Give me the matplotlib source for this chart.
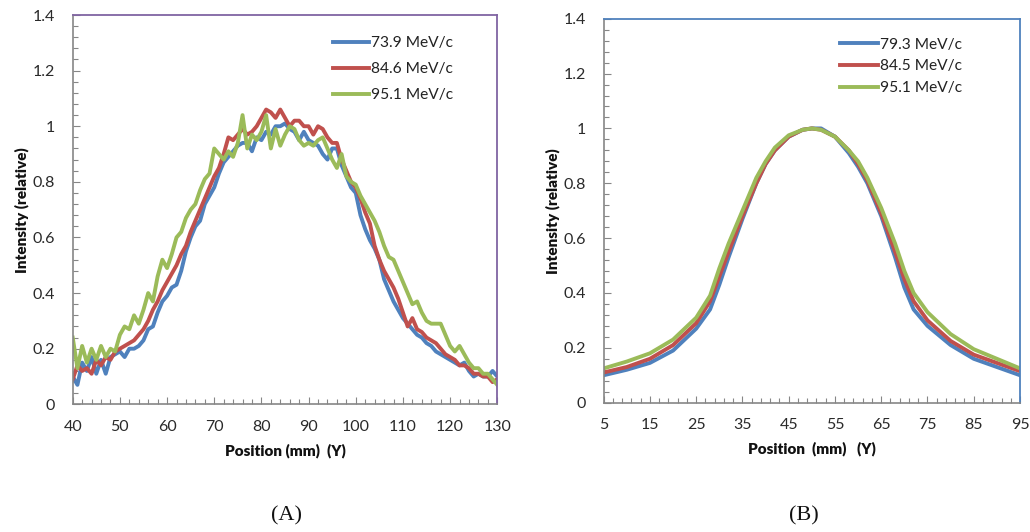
import matplotlib
matplotlib.use("Agg")
import matplotlib.pyplot as plt
from matplotlib.ticker import MultipleLocator, FixedLocator, FuncFormatter
import numpy as np

# ---------------- Data: panel A ----------------
pos_a = list(range(40, 131))
series_a_labels = ["73.9 MeV/c", "84.6 MeV/c", "95.1 MeV/c"]
a_739 = [0.10, 0.07, 0.15, 0.12, 0.17, 0.11, 0.16, 0.11, 0.17, 0.18,
         0.19, 0.17, 0.20, 0.20, 0.21, 0.23, 0.27, 0.28, 0.33, 0.37,
         0.39, 0.42, 0.43, 0.48, 0.55, 0.60, 0.64, 0.66, 0.72, 0.75,
         0.78, 0.83, 0.87, 0.89, 0.91, 0.93, 0.94, 0.94, 0.91, 0.96,
         0.95, 0.98, 0.97, 1.00, 1.00, 1.01, 0.99, 0.98, 0.95, 0.98,
         0.95, 0.94, 0.93, 0.90, 0.88, 0.92, 0.92, 0.86, 0.82, 0.78,
         0.76, 0.68, 0.63, 0.59, 0.56, 0.52, 0.45, 0.41, 0.37, 0.34,
         0.31, 0.29, 0.27, 0.25, 0.24, 0.22, 0.21, 0.19, 0.18, 0.17,
         0.16, 0.15, 0.14, 0.15, 0.12, 0.10, 0.11, 0.10, 0.10, 0.12,
         0.10]
a_846 = [0.09, 0.14, 0.12, 0.13, 0.11, 0.16, 0.14, 0.17, 0.16, 0.19,
         0.20, 0.21, 0.22, 0.23, 0.25, 0.27, 0.30, 0.34, 0.37, 0.41,
         0.44, 0.47, 0.50, 0.54, 0.57, 0.62, 0.66, 0.70, 0.74, 0.78,
         0.82, 0.85, 0.90, 0.96, 0.95, 0.97, 0.99, 0.97, 0.98, 1.00,
         1.03, 1.06, 1.05, 1.03, 1.06, 1.03, 1.00, 1.02, 1.02, 1.00,
         1.00, 0.97, 1.00, 0.99, 0.96, 0.94, 0.94, 0.88, 0.84, 0.80,
         0.78, 0.74, 0.69, 0.65, 0.57, 0.52, 0.48, 0.45, 0.42, 0.38,
         0.33, 0.28, 0.31, 0.27, 0.26, 0.24, 0.23, 0.22, 0.20, 0.18,
         0.17, 0.16, 0.14, 0.14, 0.13, 0.11, 0.11, 0.10, 0.10, 0.08,
         0.09]
a_951 = [0.24, 0.13, 0.21, 0.15, 0.20, 0.16, 0.21, 0.17, 0.20, 0.19,
         0.25, 0.28, 0.27, 0.32, 0.29, 0.34, 0.40, 0.37, 0.46, 0.52,
         0.49, 0.54, 0.60, 0.62, 0.67, 0.70, 0.72, 0.77, 0.81, 0.83,
         0.92, 0.90, 0.88, 0.91, 0.89, 0.94, 1.04, 0.92, 0.97, 0.95,
         0.98, 1.04, 0.92, 0.99, 0.93, 0.97, 1.00, 0.99, 0.95, 0.93,
         0.94, 0.93, 0.95, 0.96, 0.92, 0.88, 0.85, 0.90, 0.82, 0.80,
         0.79, 0.75, 0.72, 0.69, 0.66, 0.62, 0.57, 0.53, 0.52, 0.48,
         0.44, 0.40, 0.36, 0.37, 0.33, 0.30, 0.29, 0.29, 0.29, 0.25,
         0.21, 0.19, 0.21, 0.18, 0.15, 0.13, 0.13, 0.11, 0.11, 0.09,
         0.07]

# ---------------- Data: panel B ----------------
pos_b = [5, 10, 15, 20, 25, 28, 30, 32, 35, 38, 40, 42, 45, 48, 50, 52,
         55, 58, 60, 62, 65, 68, 70, 72, 75, 80, 85, 90, 95]
series_b_labels = ["79.3 MeV/c", "84.5 MeV/c", "95.1 MeV/c"]
b_793 = [0.10, 0.12, 0.145, 0.19, 0.27, 0.34, 0.43, 0.53, 0.67, 0.80,
         0.87, 0.92, 0.97, 0.995, 1.00, 1.00, 0.97, 0.91, 0.86, 0.80,
         0.68, 0.53, 0.42, 0.34, 0.28, 0.21, 0.16, 0.13, 0.10]
b_845 = [0.11, 0.13, 0.16, 0.21, 0.29, 0.37, 0.46, 0.55, 0.68, 0.80,
         0.87, 0.92, 0.97, 0.995, 1.00, 0.995, 0.97, 0.92, 0.87, 0.81,
         0.69, 0.55, 0.45, 0.37, 0.30, 0.225, 0.175, 0.145, 0.115]
b_951 = [0.125, 0.15, 0.18, 0.23, 0.31, 0.39, 0.49, 0.58, 0.70, 0.82,
         0.88, 0.93, 0.975, 0.995, 1.00, 0.995, 0.97, 0.92, 0.88, 0.82,
         0.71, 0.58, 0.48, 0.40, 0.33, 0.25, 0.195, 0.16, 0.125]

colors = ["#4F81BD", "#C0504D", "#9BBB59"]

plt.rcParams['font.family'] = ['Lato', 'DejaVu Sans']

fig = plt.figure(figsize=(10.30, 5.32), dpi=100)
fig.patch.set_facecolor("white")

axA = fig.add_axes([0.0706, 0.240, 0.4122, 0.7318])
axB = fig.add_axes([0.5861, 0.2431, 0.4042, 0.7217])

def style(ax, edge, xlim, xmaj, xminloc):
    ax.set_ylim(0, 1.4)
    ax.set_xlim(*xlim)
    ax.yaxis.set_major_locator(MultipleLocator(0.2))
    ax.yaxis.set_minor_locator(MultipleLocator(0.04))
    ax.yaxis.set_major_formatter(FuncFormatter(lambda v, p: "%g" % round(v, 2)))
    ax.xaxis.set_major_locator(FixedLocator(xmaj))
    ax.xaxis.set_minor_locator(xminloc)
    for s in ["left", "bottom"]:
        ax.spines[s].set_color("#868686")
        ax.spines[s].set_linewidth(1.2)
    for s in ["top", "right"]:
        ax.spines[s].set_color(edge)
        ax.spines[s].set_linewidth(1.3)
    ax.tick_params(which="both", direction="in", color="#868686",
                   labelsize=11.5, labelcolor="#2a2a2a", width=0.8)
    ax.tick_params(which="major", length=5)
    ax.tick_params(which="minor", length=3.5)
    ax.tick_params(axis="y", pad=13)
    ax.tick_params(axis="x", pad=11)
    ax.tick_params(top=False, right=False, which="both")
    ax.set_ylabel("Intensity (relative)", fontsize=11, fontweight="heavy",
                  color="#111111", labelpad=2)

style(axA, "#8064A2", (40, 130), list(range(40, 131, 10)), MultipleLocator(2))
style(axB, "#4F81BD", (5, 95), list(range(5, 96, 10)),
      MultipleLocator(2, offset=1))

for vals, lab, c in zip([a_739, a_846, a_951], series_a_labels, colors):
    axA.plot(pos_a, vals, color=c, lw=2.8, label=lab, solid_joinstyle="round")
for vals, lab, c in zip([b_793, b_845, b_951], series_b_labels, colors):
    axB.plot(pos_b, vals, color=c, lw=2.8, label=lab, solid_joinstyle="round")

axA.set_xlabel("Position (mm)  (Y)", fontsize=11, fontweight="heavy",
               color="#111111", labelpad=7)
axB.set_xlabel("Position  (mm)   (Y)", fontsize=11, fontweight="heavy",
               color="#111111", labelpad=7)

legA = axA.legend(loc="upper right", bbox_to_anchor=(0.91, 0.962), frameon=False,
                  fontsize=11.2, handlelength=2.3, handletextpad=0.1,
                  labelspacing=0.78, borderaxespad=0)
legB = axB.legend(loc="upper right", bbox_to_anchor=(0.875, 0.967), frameon=False,
                  fontsize=11.2, handlelength=2.45, handletextpad=0.1,
                  labelspacing=0.5, borderaxespad=0)
for leg in (legA, legB):
    for t in leg.get_texts():
        t.set_color("#222222")

fig.text(287 / 1030, 1 - 516 / 532, "(A)", family="Liberation Serif",
         fontsize=16, ha="center", va="center", color="#111111")
fig.text(804 / 1030, 1 - 516 / 532, "(B)", family="Liberation Serif",
         fontsize=16, ha="center", va="center", color="#111111")

fig.savefig("out.png", dpi=100, facecolor="white")
